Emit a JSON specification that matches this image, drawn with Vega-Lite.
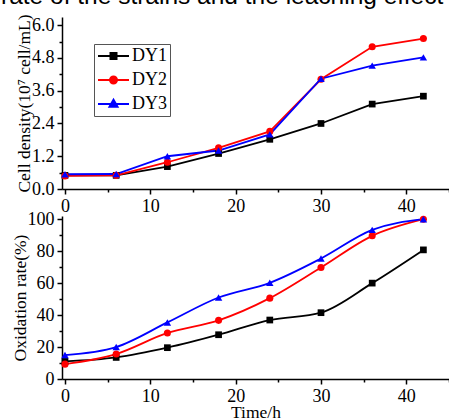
{
  "$schema": "https://vega.github.io/schema/vega-lite/v6.json",
  "padding": {"left": 0, "top": -16, "right": 0, "bottom": 0},
  "title": {"text": "rate of the strains and the leaching effect", "font": "Liberation Sans", "fontSize": 24.5, "fontWeight": "normal", "anchor": "start", "frame": "bounds", "offset": 4, "dx": -10, "color": "black"},
  "config": {
    "view": {"stroke": null},
    "axis": {"domainColor": "black", "domainWidth": 1.5, "tickColor": "black", "tickWidth": 1.5, "labelFont": "Liberation Serif", "labelFontSize": 18, "labelColor": "black", "titleFont": "Liberation Serif", "titleFontSize": 17.5, "titleFontWeight": "normal", "titleColor": "black", "grid": false, "labelFlush": false, "labelOverlap": false, "labelPadding": 3, "titlePadding": -2}
  },
  "datasets": {
    "cell": [
      {"t": 0, "v": 0.5, "strain": "DY1"}, {"t": 6, "v": 0.5, "strain": "DY1"}, {"t": 12, "v": 0.82, "strain": "DY1"}, {"t": 18, "v": 1.3, "strain": "DY1"}, {"t": 24, "v": 1.82, "strain": "DY1"}, {"t": 30, "v": 2.4, "strain": "DY1"}, {"t": 36, "v": 3.11, "strain": "DY1"}, {"t": 42, "v": 3.4, "strain": "DY1"},
      {"t": 0, "v": 0.48, "strain": "DY2"}, {"t": 6, "v": 0.5, "strain": "DY2"}, {"t": 12, "v": 0.98, "strain": "DY2"}, {"t": 18, "v": 1.51, "strain": "DY2"}, {"t": 24, "v": 2.11, "strain": "DY2"}, {"t": 30, "v": 4.02, "strain": "DY2"}, {"t": 36, "v": 5.21, "strain": "DY2"}, {"t": 42, "v": 5.51, "strain": "DY2"},
      {"t": 0, "v": 0.54, "strain": "DY3"}, {"t": 6, "v": 0.55, "strain": "DY3"}, {"t": 12, "v": 1.2, "strain": "DY3"}, {"t": 18, "v": 1.41, "strain": "DY3"}, {"t": 24, "v": 2.0, "strain": "DY3"}, {"t": 30, "v": 4.04, "strain": "DY3"}, {"t": 36, "v": 4.52, "strain": "DY3"}, {"t": 42, "v": 4.82, "strain": "DY3"}
    ],
    "ox": [
      {"t": 0, "v": 11, "strain": "DY1"}, {"t": 6, "v": 13.5, "strain": "DY1"}, {"t": 12, "v": 19.6, "strain": "DY1"}, {"t": 18, "v": 27.7, "strain": "DY1"}, {"t": 24, "v": 36.9, "strain": "DY1"}, {"t": 30, "v": 41.5, "strain": "DY1"}, {"t": 36, "v": 60, "strain": "DY1"}, {"t": 42, "v": 80.8, "strain": "DY1"},
      {"t": 0, "v": 9.3, "strain": "DY2"}, {"t": 6, "v": 15.6, "strain": "DY2"}, {"t": 12, "v": 28.8, "strain": "DY2"}, {"t": 18, "v": 36.7, "strain": "DY2"}, {"t": 24, "v": 50.6, "strain": "DY2"}, {"t": 30, "v": 69.8, "strain": "DY2"}, {"t": 36, "v": 89.6, "strain": "DY2"}, {"t": 42, "v": 100, "strain": "DY2"},
      {"t": 0, "v": 15, "strain": "DY3"}, {"t": 6, "v": 20, "strain": "DY3"}, {"t": 12, "v": 35.4, "strain": "DY3"}, {"t": 18, "v": 51, "strain": "DY3"}, {"t": 24, "v": 60.2, "strain": "DY3"}, {"t": 30, "v": 75.4, "strain": "DY3"}, {"t": 36, "v": 93.3, "strain": "DY3"}, {"t": 42, "v": 100, "strain": "DY3"}
    ]
  },
  "spacing": 27,
  "bounds": "flush",
  "resolve": {"legend": {"color": "independent"}},
  "vconcat": [
    {
      "width": 387, "height": 172,
      "data": {"name": "cell"},
      "encoding": {
        "x": {"field": "t", "type": "quantitative", "scale": {"domain": [-0.35, 45], "nice": false, "zero": false},
          "axis": {"title": null, "values": [0, 5, 10, 15, 20, 25, 30, 35, 40, 45], "labelExpr": "datum.value % 10 == 0 ? datum.label : ''", "tickSize": {"condition": {"test": "datum.value % 10 == 0", "value": 5}, "value": 3}}},
        "y": {"field": "v", "type": "quantitative", "scale": {"domain": [0, 6.3], "nice": false},
          "axis": {"title": "Cell density(10⁷ cell/mL)", "values": [0, 0.6, 1.2, 1.8, 2.4, 3.0, 3.6, 4.2, 4.8, 5.4, 6.0], "labelExpr": "round(datum.value * 10) % 12 == 0 ? format(datum.value, '.1f') : ''", "tickSize": {"condition": {"test": "round(datum.value * 10) % 12 == 0", "value": 5}, "value": 3}}},
        "color": {"field": "strain", "type": "nominal", "scale": {"domain": ["DY1", "DY2", "DY3"], "range": ["#000000", "#ff0000", "#0000ff"]}, "legend": null}
      },
      "layer": [
        {"mark": {"type": "line", "strokeWidth": 1.8},
          "encoding": {"color": {"field": "strain", "type": "nominal",
            "legend": {"title": null, "orient": "none", "legendX": 32, "legendY": 27, "strokeColor": "#555555", "padding": 3, "labelFont": "Liberation Serif", "labelFontSize": 18, "labelColor": "black", "symbolSize": 100, "symbolStrokeWidth": 2, "rowPadding": 6, "labelOffset": 17,
              "symbolType": {"expr": "datum.value == 'DY1' ? 'M-1.6,0H4.6M0.9,-0.6H2.1V0.6H0.9Z' : datum.value == 'DY2' ? 'M-1.6,0H4.6M0.8,0A0.7,0.7 0 1,0 2.2,0A0.7,0.7 0 1,0 0.8,0Z' : 'M-1.6,0H4.6M1.5,-0.85L2.3,0.55H0.7Z'"},
              "encoding": {"symbols": {"update": {
                "fill": {"condition": [{"test": "datum.value == 'DY1'", "value": "#000000"}, {"test": "datum.value == 'DY2'", "value": "#ff0000"}], "value": "#0000ff"},
                "stroke": {"condition": [{"test": "datum.value == 'DY1'", "value": "#000000"}, {"test": "datum.value == 'DY2'", "value": "#ff0000"}], "value": "#0000ff"}
              }}}}}}},
        {"transform": [{"filter": "datum.strain == 'DY1'"}], "mark": {"type": "point", "filled": true, "size": 45, "opacity": 1, "shape": "square"}},
        {"transform": [{"filter": "datum.strain == 'DY2'"}], "mark": {"type": "point", "filled": true, "size": 50, "opacity": 1, "shape": "circle"}},
        {"transform": [{"filter": "datum.strain == 'DY3'"}], "mark": {"type": "point", "filled": true, "size": 55, "opacity": 1, "shape": "triangle-up"}}
      ]
    },
    {
      "width": 387, "height": 163,
      "data": {"name": "ox"},
      "encoding": {
        "x": {"field": "t", "type": "quantitative", "scale": {"domain": [-0.35, 45], "nice": false, "zero": false},
          "axis": {"title": "Time/h", "values": [0, 5, 10, 15, 20, 25, 30, 35, 40, 45], "labelExpr": "datum.value % 10 == 0 ? datum.label : ''", "tickSize": {"condition": {"test": "datum.value % 10 == 0", "value": 5}, "value": 3}}},
        "y": {"field": "v", "type": "quantitative", "scale": {"domain": [0, 102], "nice": false},
          "axis": {"title": "Oxidation rate(%)", "values": [0, 10, 20, 30, 40, 50, 60, 70, 80, 90, 100], "labelExpr": "datum.value % 20 == 0 ? datum.label : ''", "tickSize": {"condition": {"test": "datum.value % 20 == 0", "value": 5}, "value": 3}}},
        "color": {"field": "strain", "type": "nominal", "legend": null}
      },
      "layer": [
        {"mark": {"type": "line", "strokeWidth": 1.8, "interpolate": "monotone"}},
        {"transform": [{"filter": "datum.strain == 'DY1'"}], "mark": {"type": "point", "filled": true, "size": 45, "opacity": 1, "shape": "square"}},
        {"transform": [{"filter": "datum.strain == 'DY2'"}], "mark": {"type": "point", "filled": true, "size": 50, "opacity": 1, "shape": "circle"}},
        {"transform": [{"filter": "datum.strain == 'DY3'"}], "mark": {"type": "point", "filled": true, "size": 55, "opacity": 1, "shape": "triangle-up"}}
      ]
    }
  ]
}
